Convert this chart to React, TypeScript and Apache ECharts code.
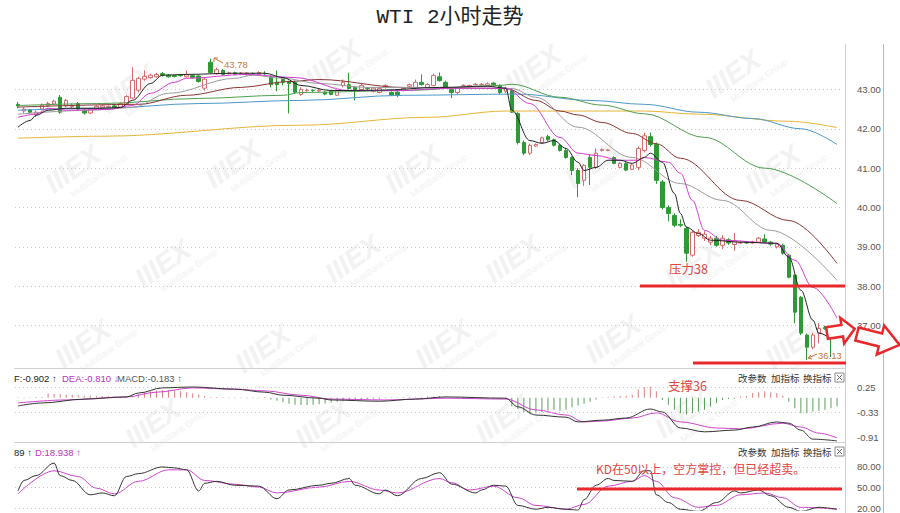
import React, { useEffect, useRef } from 'react';
import * as echarts from 'echarts';

// ---------- candles (2h bars) ----------
const opens = [
  42.62, 42.45, 42.48, 42.36, 42.50, 42.58, 42.63, 42.80, 42.58, 42.56,
  42.64, 42.47, 42.40, 42.52, 42.54, 42.55, 42.58, 42.55, 42.62, 42.78,
  42.98, 43.26, 43.30, 43.32, 43.40, 43.36, 43.35, 43.37, 43.32, 43.35,
  43.34, 43.03, 43.69, 43.40, 43.48, 43.40, 43.42, 43.40, 43.37, 43.40,
  43.38, 43.40, 43.32, 43.18, 43.25, 43.20, 43.18, 42.87, 42.97, 42.98,
  42.96, 42.93, 42.95, 42.85, 43.10, 43.12, 43.05, 43.00, 43.03, 42.95,
  42.92, 43.06, 42.92, 42.93, 42.97, 43.08, 43.05, 43.18, 43.05, 43.10,
  43.32, 43.18, 43.00, 42.92, 43.10, 43.08, 43.12, 43.12, 43.10, 43.16,
  43.10, 42.95, 42.97, 42.39, 41.65, 41.38, 41.56, 41.65, 41.80, 41.72,
  41.58, 41.45, 41.27, 40.94, 40.69, 41.27, 41.02, 41.45, 41.45, 41.27,
  41.02, 41.12, 40.97, 41.02, 41.45, 41.80, 41.60, 40.65, 40.00, 39.80,
  39.57, 39.47, 38.79, 39.29, 39.22, 39.12, 39.22, 39.04, 39.18, 39.06,
  39.10, 39.11, 39.10, 39.12, 39.20, 39.12, 39.00, 39.04, 38.79, 38.28,
  37.72, 36.76, 36.45, 36.81, 36.95, 36.81, 36.71,
];
const closes = [
  42.58, 42.50, 42.42, 42.42, 42.60, 42.64, 42.70, 42.42, 42.72, 42.60,
  42.50, 42.40, 42.50, 42.57, 42.58, 42.56, 42.53, 42.64, 42.82, 43.23,
  43.28, 43.33, 43.36, 43.38, 43.36, 43.32, 43.33, 43.35, 43.37, 43.30,
  43.20, 43.26, 43.43, 43.50, 43.38, 43.42, 43.39, 43.41, 43.41, 43.40,
  43.43, 43.40, 43.12, 43.12, 43.18, 43.15, 42.93, 43.00, 42.98, 42.97,
  42.98, 42.88, 42.87, 42.97, 43.18, 43.02, 43.00, 43.10, 43.02, 43.03,
  43.02, 43.10, 42.86, 42.86, 43.02, 43.12, 43.18, 43.12, 43.12, 43.35,
  43.22, 43.05, 42.92, 43.03, 43.10, 43.10, 43.13, 43.13, 43.14, 43.12,
  42.92, 43.03, 42.42, 41.65, 41.38, 41.58, 41.60, 41.77, 41.72, 41.58,
  41.45, 41.27, 40.94, 40.61, 41.07, 41.02, 41.38, 41.47, 41.46, 41.12,
  41.12, 40.95, 41.08, 41.50, 41.82, 41.60, 40.69, 40.00, 39.85, 39.55,
  39.55, 38.84, 39.37, 39.37, 39.32, 39.22, 39.04, 39.22, 39.10, 39.15,
  39.11, 39.10, 39.12, 39.22, 39.12, 39.07, 39.07, 38.84, 38.23, 37.34,
  36.81, 36.45, 36.76, 36.93, 36.92, 36.71, 36.81,
];
const lows = [
  42.52, 42.40, 42.38, 42.30, 42.47, 42.55, 42.60, 42.38, 42.55, 42.52,
  42.46, 42.36, 42.37, 42.50, 42.52, 42.52, 42.50, 42.52, 42.60, 42.75,
  42.92, 43.22, 43.27, 43.30, 43.33, 43.30, 43.30, 43.32, 43.30, 43.28,
  43.17, 42.97, 43.40, 43.37, 43.35, 43.38, 43.36, 43.37, 43.35, 43.38,
  43.36, 43.37, 43.05, 42.95, 43.10, 42.39, 42.88, 42.84, 42.94, 42.93,
  42.92, 42.85, 42.85, 42.83, 43.05, 43.00, 42.72, 42.95, 42.98, 42.92,
  42.90, 43.02, 42.84, 42.80, 42.95, 43.05, 43.02, 43.10, 43.02, 43.08,
  43.20, 43.02, 42.78, 42.88, 43.07, 43.06, 43.10, 43.10, 43.08, 43.10,
  42.88, 42.90, 42.40, 41.60, 41.33, 41.33, 41.54, 41.62, 41.68, 41.55,
  41.42, 41.24, 40.82, 40.26, 40.55, 40.57, 40.98, 41.42, 41.43, 41.10,
  41.00, 40.92, 40.95, 40.95, 41.40, 41.55, 40.60, 39.95, 39.65, 39.50,
  39.50, 38.62, 38.75, 39.25, 39.15, 39.05, 39.00, 38.95, 39.05, 38.90,
  39.07, 39.07, 39.08, 39.10, 39.10, 39.03, 38.96, 38.80, 38.20, 37.06,
  36.76, 36.13, 36.40, 36.55, 36.90, 36.20, 36.68,
];
const highs = [
  42.68, 42.55, 42.50, 42.46, 42.64, 42.68, 42.74, 42.86, 42.76, 42.64,
  42.68, 42.50, 42.53, 42.60, 42.61, 42.59, 42.61, 42.67, 42.85, 43.56,
  43.32, 43.48, 43.40, 43.42, 43.44, 43.39, 43.37, 43.39, 43.48, 43.38,
  43.37, 43.30, 43.78, 43.55, 43.52, 43.45, 43.45, 43.44, 43.44, 43.43,
  43.46, 43.46, 43.35, 43.48, 43.30, 43.22, 43.22, 43.05, 43.02, 43.00,
  43.02, 42.95, 42.97, 43.00, 43.25, 43.42, 43.08, 43.15, 43.06, 43.06,
  43.05, 43.13, 42.95, 42.97, 43.05, 43.15, 43.25, 43.38, 43.16, 43.40,
  43.43, 43.22, 43.03, 43.06, 43.13, 43.12, 43.16, 43.16, 43.18, 43.18,
  43.13, 43.07, 43.03, 42.42, 41.70, 41.62, 41.63, 41.80, 41.85, 41.75,
  41.62, 41.50, 41.30, 41.00, 41.10, 41.35, 41.50, 41.50, 41.48, 41.30,
  41.15, 41.15, 41.10, 41.55, 41.90, 41.90, 41.65, 40.70, 40.05, 39.85,
  39.70, 39.52, 39.42, 39.45, 39.40, 39.28, 39.28, 39.30, 39.22, 39.35,
  39.14, 39.14, 39.15, 39.25, 39.32, 39.15, 39.10, 39.08, 38.82, 38.30,
  37.75, 36.80, 36.82, 37.06, 37.00, 36.85, 36.90,
];
const categories = opens.map((_, i) => String(i));

// ---------- moving averages [barIndex, price] ----------
const ma5 = [[0,42.04],[2,42.21],[3,42.34],[5,42.47],[8,42.52],[14,42.52],[17,42.54],[19,42.72],[22,43.15],[24,43.36],[28,43.38],[36,43.41],[41,43.41],[44,43.30],[47,43.10],[52,42.97],[60,42.98],[70,43.05],[78,43.08],[81,43.03],[82,42.47],[85,41.70],[87,41.63],[89,41.70],[91,41.50],[93,41.15],[94,40.94],[96,41.02],[98,41.20],[100,41.20],[102,41.12],[104,41.27],[105,41.38],[107,41.15],[109,40.36],[110,39.85],[111,39.50],[113,39.34],[115,39.17],[120,39.12],[126,39.09],[128,38.74],[130,37.90],[132,37.14],[133,36.81],[135,36.71],[136,36.76]];
const ma10 = [[0,42.29],[3,42.37],[5,42.52],[8,42.47],[15,42.49],[19,42.59],[22,42.90],[26,43.18],[28,43.28],[38,43.38],[46,43.30],[55,42.97],[63,42.97],[72,43.03],[81,43.03],[85,42.64],[90,41.78],[93,41.38],[96,41.32],[100,41.20],[103,41.20],[104,41.27],[108,41.15],[110,40.87],[112,40.18],[114,39.42],[117,39.17],[126,39.09],[129,38.66],[132,37.97],[136,37.19]];
const ma20 = [[0,42.37],[12,42.47],[19,42.54],[25,42.90],[36,43.28],[39,43.36],[44,43.28],[50,43.15],[58,43.05],[80,43.03],[82,43.02],[86,42.80],[93,42.04],[102,41.27],[110,40.61],[117,40.18],[125,39.42],[136,38.15]];
const ma30 = [[0,42.55],[20,42.62],[28,42.85],[37,43.05],[45,43.20],[50,43.25],[64,43.05],[81,43.02],[86,42.72],[90,42.45],[93,42.35],[97,42.16],[102,41.88],[106,41.62],[110,41.25],[120,40.18],[128,39.67],[136,38.58]];
const ma60 = [[0,42.59],[14,42.64],[30,42.77],[44,42.85],[47,42.92],[64,42.97],[80,43.10],[82,43.13],[90,42.80],[97,42.60],[104,42.38],[114,41.78],[124,41.00],[136,40.10]];
const ma120 = [[0,42.47],[14,42.52],[30,42.64],[47,42.72],[64,42.85],[83,42.88],[95,42.72],[104,42.62],[113,42.42],[122,42.26],[130,42.00],[136,41.60]];
const ma250 = [[0,41.76],[14,41.81],[47,42.09],[68,42.29],[81,42.45],[104,42.45],[113,42.37],[128,42.19],[136,42.03]];

// ---------- MACD ----------
const macdHist = [
  0.01, -0.01, 0.01, 0.02, 0.02, 0.10, 0.09, 0.08, 0.07, 0.07,
  0.06, 0.05, 0.05, 0.04, 0.04, 0.04, 0.03, 0.02, 0.02, 0.03,
  0.08, 0.12, 0.15, 0.17, 0.18, 0.18, 0.17, 0.15, 0.13, 0.10,
  0.07, 0.04, 0.02, 0.02, 0.01, 0.01, -0.01, 0.01, -0.01, 0.01,
  -0.01, 0.01, -0.04, -0.07, -0.10, -0.14, -0.16, -0.17, -0.17, -0.16,
  -0.15, -0.13, -0.11, -0.09, -0.08, -0.07, -0.05, -0.04, -0.03, -0.02,
  -0.02, -0.01, 0.01, 0.01, 0.02, 0.02, 0.01, 0.02, 0.03, 0.03,
  0.04, 0.03, 0.01, 0.01, 0.01, 0.01, 0.02, 0.01, 0.01, 0.01,
  -0.01, -0.01, -0.20, -0.26, -0.33, -0.38, -0.36, -0.33, -0.29, -0.28,
  -0.30, -0.28, -0.22, -0.18, -0.14, -0.09, -0.04, 0.01, 0.02, 0.03,
  0.04, 0.05, 0.07, 0.19, 0.25, 0.26, 0.15, -0.05, -0.16, -0.28,
  -0.36, -0.39, -0.36, -0.32, -0.28, -0.20, -0.12, -0.05, -0.03, -0.02,
  0.03, 0.04, 0.11, 0.13, 0.15, 0.13, 0.11, 0.05, -0.09, -0.24,
  -0.36, -0.36, -0.32, -0.30, -0.28, -0.24, -0.20,
];
const difLine = [[0,-0.19],[4,-0.12],[11,-0.03],[18,0.02],[20,0.11],[24,0.23],[29,0.25],[36,0.20],[41,0.13],[44,0.06],[50,-0.01],[52,-0.05],[60,-0.08],[66,-0.03],[71,0.02],[81,-0.01],[83,-0.21],[86,-0.40],[91,-0.45],[93,-0.56],[97,-0.52],[101,-0.47],[105,-0.26],[107,-0.33],[110,-0.70],[114,-0.79],[119,-0.75],[122,-0.68],[126,-0.56],[128,-0.59],[130,-0.75],[132,-0.96],[136,-1.00]];
const deaLine = [[0,-0.12],[8,-0.05],[18,0.02],[23,0.13],[29,0.23],[36,0.20],[41,0.16],[47,0.06],[52,-0.03],[61,-0.05],[71,-0.01],[81,-0.03],[86,-0.28],[91,-0.40],[94,-0.56],[97,-0.54],[102,-0.47],[106,-0.35],[110,-0.56],[116,-0.70],[120,-0.72],[127,-0.59],[130,-0.68],[133,-0.82],[136,-0.93]];

// ---------- KD ----------
const kLine = [[0,44.9],[1,60.3],[3,67.4],[6,85.6],[7,67.4],[9,60.3],[12,39.3],[14,42.0],[16,37.9],[18,66.0],[20,70.2],[24,80.0],[26,78.6],[28,75.8],[30,44.9],[31,56.1],[33,59.0],[36,53.3],[40,51.9],[43,33.6],[45,46.3],[50,53.3],[52,56.1],[55,63.1],[56,53.3],[60,40.7],[61,46.3],[63,37.9],[67,63.1],[70,71.6],[72,55.0],[76,42.0],[77,46.3],[79,53.3],[81,51.9],[83,23.8],[86,18.2],[88,21.0],[91,18.2],[93,16.8],[94,32.2],[96,53.3],[98,63.1],[99,60.3],[102,59.0],[104,74.4],[105,74.4],[106,39.3],[108,28.0],[110,18.2],[113,15.0],[116,28.0],[119,44.9],[120,42.0],[123,46.3],[125,37.9],[128,21.0],[130,15.0],[133,21.0],[136,18.2]];
const dLine = [[0,40.7],[6,74.4],[10,66.0],[13,49.1],[16,40.7],[20,59.0],[25,75.8],[28,75.8],[31,60.3],[36,54.7],[40,50.5],[43,42.0],[50,50.5],[55,59.0],[60,46.3],[63,42.0],[70,63.1],[72,57.0],[75,46.3],[79,51.9],[83,35.0],[86,23.8],[91,18.2],[94,25.2],[98,51.9],[102,59.0],[104,67.4],[106,59.0],[109,35.0],[113,21.0],[116,23.8],[120,39.3],[124,42.0],[127,35.0],[130,21.0],[136,18.2]];

// ---------- ticks / texts ----------
const priceTicks = [37, 38, 39, 40, 41, 42, 43];
const macdTicks = [0.25, -0.33, -0.91];
const kdTicks = [80, 50, 20];
const macdHeader = { dif: '-0.902', dea: '-0.810', macd: '-0.183' };
const kdHeader = { k: '89', d: '18.938' };
const maxLabel = '43.78';
const minLabel = '36.13';

const RED = '#e8282a';
const UP = '#d46a6a';
const DOWN = '#2e9a35';
const MONO = "'Liberation Sans', 'DejaVu Sans', sans-serif";
const CJK = "'Noto Sans CJK SC', sans-serif";

function lineSeries(data: number[][], color: string, gi: number, z = 3) {
  return {
    type: 'line', xAxisIndex: gi, yAxisIndex: gi, data, symbol: 'none',
    smooth: 0.35, smoothMonotone: 'x', z,
    lineStyle: { color, width: 1 }, silent: true,
  };
}

function watermark(x: number, y: number) {
  return {
    type: 'group', x, y, rotation: 0.62, z: 0, silent: true,
    children: [
      { type: 'text', x: 0, y: 0, style: { text: 'IIIEX', fontSize: 28, fontWeight: 'bold', fontStyle: 'italic', fontFamily: 'Liberation Sans', fill: '#f2f2f2' } },
      { type: 'text', x: 14, y: 30, style: { text: 'MultiBank Group', fontSize: 9, fontFamily: 'Liberation Sans', fill: '#f2f2f2' } },
    ],
  };
}

function arrow(x: number, y: number, len: number, half: number, rot: number) {
  const body = half * 0.45;
  const neck = len * 0.55;
  return {
    type: 'polygon', x, y, rotation: rot, z: 60, zlevel: 0,
    shape: { points: [[0, -body], [neck, -body], [neck, -half], [len, 0], [neck, half], [neck, body], [0, body]] },
    style: { fill: '#ffffff', stroke: RED, lineWidth: 2.5 },
  };
}

function buttons(y: number) {
  const s = { fontSize: 9.5, fontFamily: CJK, fill: '#333', verticalAlign: 'middle' };
  return [
    { type: 'text', x: 738, y, style: { ...s, text: '改参数' } },
    { type: 'text', x: 771, y, style: { ...s, text: '加指标' } },
    { type: 'text', x: 803, y, style: { ...s, text: '换指标' } },
    { type: 'rect', shape: { x: 835, y: y - 5, width: 9, height: 9 }, style: { fill: '#fff', stroke: '#888', lineWidth: 1 } },
    { type: 'line', shape: { x1: 837, y1: y - 3, x2: 842, y2: y + 2 }, style: { stroke: '#666', lineWidth: 1 } },
    { type: 'line', shape: { x1: 842, y1: y - 3, x2: 837, y2: y + 2 }, style: { stroke: '#666', lineWidth: 1 } },
  ];
}

export default function App() {
  const ref = useRef<HTMLDivElement>(null);
  useEffect(() => {
    const chart = echarts.init(ref.current!, null, { renderer: 'svg' });
    const candleData = opens.map((o, i) => [o, closes[i], lows[i], highs[i]]);
    const dotted = { type: [1, 3], color: '#c8c8c8', width: 1 };
    const hdr = { fontSize: 9.5, fontFamily: MONO, verticalAlign: 'middle' };
    const option: any = {
      animation: false,
      backgroundColor: '#fff',
      title: {
        text: 'WTI 2小时走势', left: 'center', top: 2,
        textStyle: { fontSize: 21, fontWeight: 'normal', color: '#222', fontFamily: "'Liberation Mono', 'Noto Sans CJK SC', monospace" },
      },
      grid: [
        { left: 15, width: 825, top: 50, height: 315 },
        { left: 15, width: 825, top: 369, height: 73 },
        { left: 15, width: 825, top: 443, height: 70 },
      ],
      xAxis: [0, 1, 2].map((g) => ({ type: 'category', gridIndex: g, data: categories, show: false, boundaryGap: true })),
      yAxis: [
        {
          type: 'value', gridIndex: 0, position: 'right', min: 36, max: 44, interval: 1, scale: true,
          axisLine: { show: false }, axisTick: { show: false },
          axisLabel: { margin: 17, color: '#555', fontSize: 9.5, fontFamily: MONO, formatter: (v: number) => (priceTicks.includes(v) ? v.toFixed(2) : '') },
          splitLine: { show: true, lineStyle: dotted, showMinLine: false, showMaxLine: false },
        },
        {
          type: 'value', gridIndex: 1, position: 'right', min: -1.026, max: 0.668,
          axisLine: { show: false }, axisTick: { show: false }, splitLine: { show: false },
          axisLabel: { margin: 17, color: '#555', fontSize: 9.5, fontFamily: MONO, customValues: macdTicks, formatter: (v: number) => v.toFixed(2) },
        },
        {
          type: 'value', gridIndex: 2, position: 'right', min: 16.8, max: 115,
          axisLine: { show: false }, axisTick: { show: false }, splitLine: { show: false },
          axisLabel: { margin: 17, color: '#555', fontSize: 9.5, fontFamily: MONO, customValues: kdTicks, formatter: (v: number) => v.toFixed(2) },
        },
      ],
      series: [
        {
          type: 'candlestick', xAxisIndex: 0, yAxisIndex: 0, data: candleData, barWidth: 4, z: 2, silent: true,
          itemStyle: { color: '#fff', color0: DOWN, borderColor: UP, borderColor0: DOWN, borderWidth: 1 },
        },
        lineSeries(ma250, '#e6b437', 0),
        lineSeries(ma120, '#4a98c9', 0),
        lineSeries(ma60, '#4f9e4f', 0),
        lineSeries(ma30, '#8a3434', 0),
        lineSeries(ma20, '#9a9a9a', 0),
        lineSeries(ma10, '#d23cd2', 0, 4),
        lineSeries(ma5, '#222222', 0, 5),
        {
          type: 'bar', xAxisIndex: 1, yAxisIndex: 1, barWidth: 1, silent: true,
          data: macdHist.map((v) => ({ value: v, itemStyle: { color: v >= 0 ? '#d98080' : '#5c9e5c' } })),
          markLine: {
            silent: true, symbol: ['none', 'none'], label: { show: false },
            lineStyle: dotted, data: [{ yAxis: 0.25 }, { yAxis: -0.33 }],
          },
        },
        lineSeries(difLine, '#333333', 1, 5),
        lineSeries(deaLine, '#cc44cc', 1, 4),
        {
          ...lineSeries(kLine, '#333333', 2, 5),
          markLine: {
            silent: true, symbol: ['none', 'none'], label: { show: false },
            lineStyle: dotted, data: kdTicks.map((v) => ({ yAxis: v })),
          },
        },
        lineSeries(dLine, '#cc44cc', 2, 4),
      ],
      graphic: [
        // watermarks
        ...[[95, 95], [300, 70], [500, 75], [700, 80],
          [40, 175], [200, 170], [380, 175], [560, 170], [740, 175],
          [130, 270], [320, 265], [480, 265], [660, 270],
          [50, 350], [230, 355], [410, 350], [580, 345], [760, 350],
          [120, 430], [290, 430], [470, 425], [650, 420]].map(([x, y]) => watermark(x, y)),
        // frame
        { type: 'line', z: 10, shape: { x1: 845.5, y1: 44, x2: 845.5, y2: 513 }, style: { stroke: '#cfcfcf', lineWidth: 1 } },
        { type: 'line', z: 10, shape: { x1: 883.5, y1: 44, x2: 883.5, y2: 513 }, style: { stroke: '#b8b8b8', lineWidth: 1 } },
        { type: 'line', z: 10, shape: { x1: 14, y1: 368.5, x2: 845, y2: 368.5 }, style: { stroke: '#d0d0d0', lineWidth: 1 } },
        { type: 'line', z: 10, shape: { x1: 14, y1: 442.5, x2: 845, y2: 442.5 }, style: { stroke: '#d0d0d0', lineWidth: 1 } },
        // MACD header
        { type: 'text', z: 10, x: 14, y: 378, style: { ...hdr, text: `F:${macdHeader.dif} ↑`, fill: '#222' } },
        { type: 'text', z: 10, x: 62, y: 378, style: { ...hdr, text: `DEA:${macdHeader.dea} ↓`, fill: '#c030c0' } },
        { type: 'text', z: 10, x: 117, y: 378, style: { ...hdr, text: `MACD:${macdHeader.macd} ↑`, fill: '#555' } },
        // KD header
        { type: 'text', z: 10, x: 14, y: 452, style: { ...hdr, text: `${kdHeader.k} ↑`, fill: '#222' } },
        { type: 'text', z: 10, x: 35, y: 452, style: { ...hdr, text: `D:${kdHeader.d} ↑`, fill: '#c030c0' } },
        ...buttons(378).map((b: any) => ({ ...b, z: 10 })),
        ...buttons(452).map((b: any) => ({ ...b, z: 10 })),
        // max / min labels
        { type: 'line', z: 10, shape: { x1: 214, y1: 58, x2: 223, y2: 63 }, style: { stroke: '#c8763a', lineWidth: 1 } },
        { type: 'polyline', z: 10, shape: { points: [[214, 62], [214, 58], [218, 58]] }, style: { stroke: '#c8763a', lineWidth: 1, fill: 'none' } },
        { type: 'text', z: 10, x: 224, y: 64, style: { text: maxLabel, fontSize: 9.5, fontFamily: MONO, fill: '#c8763a', verticalAlign: 'middle' } },
        { type: 'line', z: 10, shape: { x1: 808, y1: 358, x2: 817, y2: 354 }, style: { stroke: '#c8763a', lineWidth: 1 } },
        { type: 'polyline', z: 10, shape: { points: [[811, 355], [808, 358], [812, 359]] }, style: { stroke: '#c8763a', lineWidth: 1, fill: 'none' } },
        { type: 'text', z: 10, x: 818, y: 355, style: { text: minLabel, fontSize: 9.5, fontFamily: MONO, fill: '#c8763a', verticalAlign: 'middle' } },
        // annotations
        { type: 'line', z: 20, shape: { x1: 640, y1: 286, x2: 845, y2: 286 }, style: { stroke: RED, lineWidth: 3 } },
        { type: 'line', z: 20, shape: { x1: 693, y1: 363, x2: 846, y2: 363 }, style: { stroke: RED, lineWidth: 3 } },
        { type: 'line', z: 20, shape: { x1: 577, y1: 489, x2: 842, y2: 489 }, style: { stroke: RED, lineWidth: 3 } },
        { type: 'text', z: 20, x: 669, y: 268, style: { text: '压力38', fontSize: 12.5, fontFamily: CJK, fill: '#e0463f', verticalAlign: 'middle' } },
        { type: 'text', z: 20, x: 668, y: 385, style: { text: '支撑36', fontSize: 12.5, fontFamily: CJK, fill: '#e0463f', verticalAlign: 'middle' } },
        { type: 'text', z: 20, x: 596, y: 468, style: { text: 'KD在50以上，空方掌控，但已经超卖。', fontSize: 12, fontFamily: CJK, fill: '#e0463f', verticalAlign: 'middle' } },
        arrow(827, 333, 28, 13, 0.15),
        arrow(857, 334, 44, 15, -0.25),
      ],
    };
    chart.setOption(option);
    return () => chart.dispose();
  }, []);
  return <div ref={ref} style={{ position: 'fixed', left: 0, top: 0, width: 900, height: 513 }} />;
}
